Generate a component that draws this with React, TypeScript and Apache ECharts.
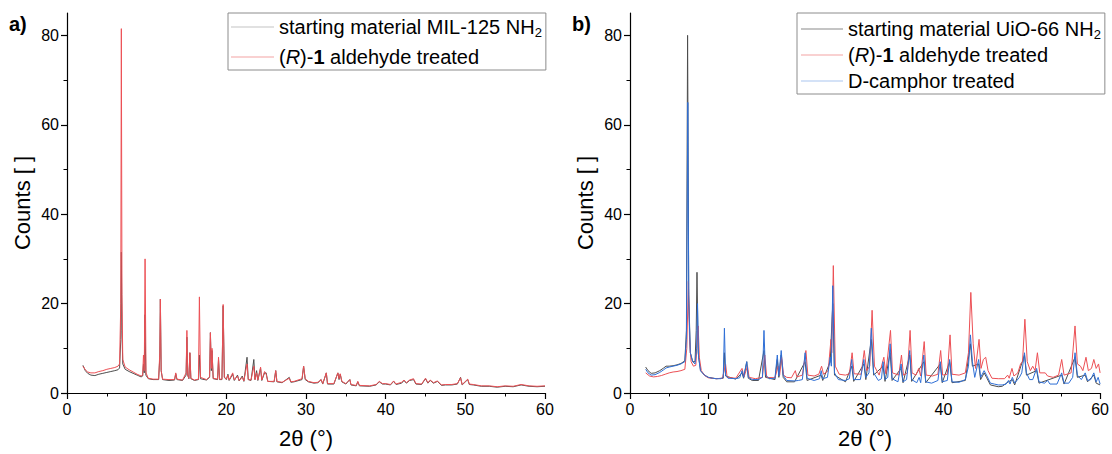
import React, { useEffect, useRef } from "react";
import * as echarts from "echarts";

// ---- Panel a) MIL-125 NH2 ----
const milStart: number[][] = [
  [2.0,6.2],[2.3,5.0],[2.6,4.4],[3.0,4.0],[3.5,3.9],[4.0,4.2],[4.5,4.4],[5.0,4.6],[5.5,4.8],[6.0,5.0],[6.4,5.2],[6.6,5.6],
  [6.75,12],[6.82,31.5],[6.9,14],[7.0,6.5],[7.3,5.3],[7.8,4.8],[8.3,4.4],[8.8,4.0],[9.3,3.6],[9.5,3.8],[9.6,6.5],[9.7,4.5],
  [9.78,17.5],[9.9,4],[10.2,3.2],[10.8,3.0],[11.5,3.0],[11.65,8],[11.72,21],[11.82,5],[12,3],[12.8,2.8],[13.5,2.9],[13.65,4.3],
  [13.8,3],[14.5,2.8],[14.95,4],[15.05,12.5],[15.15,4],[15.3,3.2],[15.42,9],[15.55,3.2],[16.0,2.8],[16.5,3.0],[16.62,8.5],
  [16.75,3.2],[17.5,2.9],[17.9,3.5],[18.0,13.5],[18.12,5],[18.2,9.5],[18.35,3.2],[18.9,3],[19.02,7.5],[19.15,3],[19.45,3],
  [19.6,19.5],[19.75,3.5],[20.0,3],[20.2,4.2],[20.35,2.8],[20.8,4.2],[21.0,2.8],[21.4,4],[21.6,2.7],[22.0,3.8],[22.2,2.6],
  [22.6,8],[22.75,3],[23.1,2.8],[23.45,7.5],[23.6,3],[23.8,5],[23.95,2.8],[24.3,5.5],[24.45,2.8],[24.8,4.5],[25.0,4.5],
  [25.2,2.6],[26.0,2.5],[26.2,5],[26.35,2.5],[27,2.3],[27.9,3.5],[28.1,2.4],[28.5,2.5],[29.5,3],[29.7,6],[29.9,3],[30.3,2.5],
  [31.0,2.2],[31.5,2.3],[31.9,3],[32.1,2],[32.55,4.5],[32.7,2],[33.5,2.0],[34.0,4.5],[34.15,3],[34.3,4.2],[34.5,2.5],[35.0,2],
  [35.5,3],[35.65,1.8],[36.3,1.6],[36.5,2.5],[36.7,1.6],[38,1.5],[38.8,1.8],[39.2,2.5],[39.6,2],[40,2],[40.6,1.8],[41,2.6],
  [41.3,1.9],[42,2.2],[42.3,2.8],[42.6,2.2],[43,2.8],[43.5,3],[43.8,2],[44.5,1.9],[45,3.2],[45.3,2.2],[45.6,2.8],[46,2.2],
  [46.5,2.6],[47,1.7],[47.5,1.8],[48.3,1.8],[49,2],[49.4,3.5],[49.6,1.8],[50.3,3],[50.5,1.9],[51,1.8],[52,1.5],[53,1.5],
  [54,1.3],[55,1.5],[56,1.4],[57,1.8],[58,1.5],[59,1.4],[60,1.5]
];
const milAldehyde: number[][] = [
  [2.0,6.0],[2.3,5.2],[2.6,4.7],[3.0,4.5],[3.5,4.5],[4.0,4.8],[4.5,5.0],[5.0,5.3],[5.5,5.5],[6.0,5.7],[6.4,6.0],[6.6,6.5],
  [6.75,20],[6.82,81.5],[6.9,22],[7.0,7.5],[7.3,5.8],[7.8,5.2],[8.3,4.7],[8.8,4.2],[9.3,3.8],[9.5,4.0],[9.6,8.5],[9.7,5],
  [9.8,30],[9.92,4.5],[10.2,3.3],[10.8,3.1],[11.5,3.1],[11.65,9],[11.72,21],[11.82,5],[12,3.1],[12.8,3.0],[13.5,3.0],[13.65,4.5],
  [13.8,3.1],[14.5,2.9],[14.95,4.5],[15.05,14],[15.15,4],[15.3,3.3],[15.42,9],[15.55,3.3],[16.0,2.9],[16.5,3.1],[16.62,21.5],
  [16.75,3.5],[17.5,3.0],[17.9,3.6],[18.0,13.5],[18.12,5.5],[18.2,10],[18.35,3.3],[18.9,3.1],[19.02,8],[19.15,3.1],[19.45,3.1],
  [19.6,19.8],[19.75,3.6],[20.0,3.1],[20.2,4.0],[20.35,2.9],[20.8,4.5],[21.0,2.9],[21.4,3.8],[21.6,2.8],[22.0,3.5],[22.2,2.7],
  [22.6,6.5],[22.75,3],[23.1,2.9],[23.45,6],[23.6,3],[23.8,4.5],[23.95,2.9],[24.3,5.8],[24.45,2.9],[24.8,4.8],[25.0,4.2],
  [25.2,2.6],[26.0,2.6],[26.2,5],[26.35,2.6],[27,2.4],[27.9,3.3],[28.1,2.5],[28.5,2.6],[29.5,3.2],[29.7,6],[29.9,3.2],[30.3,2.6],
  [31.0,2.3],[31.5,2.4],[31.9,3],[32.1,2.1],[32.55,4.5],[32.7,2.1],[33.5,2.1],[34.0,4.5],[34.15,3.2],[34.3,4.3],[34.5,2.6],[35.0,2.1],
  [35.5,3],[35.65,1.9],[36.3,1.7],[36.5,2.6],[36.7,1.7],[38,1.6],[38.8,1.9],[39.2,2.6],[39.6,2.1],[40,2.1],[40.6,1.9],[41,2.7],
  [41.3,2],[42,2.4],[42.3,2.9],[42.6,2.3],[43,2.9],[43.5,3.2],[43.8,2.1],[44.5,2],[45,3.3],[45.3,2.3],[45.6,2.9],[46,2.3],
  [46.5,2.7],[47,1.8],[47.5,1.9],[48.3,1.9],[49,2.1],[49.4,3.4],[49.6,1.9],[50.3,3.1],[50.5,2],[51,1.9],[52,1.6],[53,1.6],
  [54,1.4],[55,1.6],[56,1.5],[57,1.9],[58,1.6],[59,1.5],[60,1.6]
];

// ---- Panel b) UiO-66 NH2 ----
const uioStart: number[][] = [
  [2,5.8],[2.3,5],[2.7,4.4],[3.2,4.5],[3.8,5],[4.3,5.6],[4.6,6],[5,6],[5.5,6.1],[6,6.3],[6.5,6.6],[7.0,7.2],[7.2,14],[7.35,80],
  [7.5,22],[7.7,9],[8.0,7],[8.3,7],[8.45,14],[8.55,27],[8.7,9],[9,5],[9.5,4],[10,3.5],[11,3.2],[11.9,3.3],[12.05,9],[12.2,3.8],
  [13.5,3.1],[14.3,4.5],[14.5,3.3],[14.9,7],[15.1,3.3],[15.6,2.8],[16.4,2.8],[17.1,9.5],[17.3,3.5],[18.5,3],[18.8,7.5],[19.0,3.5],
  [19.3,8.5],[19.55,3.5],[20,2.5],[21,2.5],[22.35,7],[22.6,2.8],[24.4,4],[24.6,2.8],[25.55,7],[25.88,20],[26.1,4],[27.5,2.5],
  [28.3,6],[28.55,2.6],[29.85,6.5],[30.1,3],[30.8,12],[31.1,4],[32.3,6],[32.55,2.6],[33.2,9],[33.45,2.8],[34.6,5.5],[34.85,2.3],
  [35.7,8.5],[35.95,2.6],[37.5,7],[37.75,2.3],[39.6,6.5],[39.85,2.3],[40.8,7],[41.1,2.3],[42.8,2.8],[43.45,11],[43.7,6],[44.5,6.5],
  [44.75,3],[45.2,4.5],[45.5,3.5],[46,1.8],[47,1.4],[47.5,1.5],[48.3,2.5],[48.8,3],[49.1,1.8],[50.35,8.5],[50.6,4],[51.9,5],
  [52.2,2.2],[55.1,4],[55.4,2],[56.8,8],[57.1,3.5],[58.1,4],[58.4,2.5],[59.2,4],[59.5,2.2],[60,1.8]
];
const uioAldehyde: number[][] = [
  [2,4.5],[2.5,3.8],[3,3.6],[3.5,3.7],[4,3.9],[4.5,4.2],[5,4.5],[5.5,4.7],[6,4.8],[6.5,5.0],[7.0,5.3],[7.25,10],[7.45,25],
  [7.6,12],[7.8,7],[8.1,6],[8.4,6.2],[8.7,15],[8.85,8],[9.1,5],[9.6,3.8],[10,3.4],[11,3.2],[11.8,3.3],[12.2,6.5],[12.4,3.5],
  [13.5,3.3],[14.3,5.5],[14.55,3.6],[15.0,6],[15.2,3.5],[16,3.2],[16.9,3.5],[17.2,8.5],[17.45,3.5],[18.5,3.4],[18.9,6],[19.1,4],
  [19.35,8],[19.6,4],[20,3.5],[20.6,3.4],[21.1,5],[21.3,3.6],[22.0,4],[22.45,9.5],[22.7,4],[23.5,3.8],[24.1,4.2],[24.45,6],
  [24.7,4.2],[25.3,5],[25.65,12],[25.75,9],[25.95,28.5],[26.2,6],[26.7,4.2],[27.5,4],[28.0,4.3],[28.35,9],[28.6,4.3],[29.5,4.2],
  [29.9,9.5],[30.2,5],[30.6,6],[30.9,18.5],[31.2,6],[31.8,4],[32.4,8],[32.65,4.3],[33.25,14],[33.5,4.5],[34.3,4],[34.65,8.5],
  [34.9,4],[35.4,4.5],[35.75,14],[36.0,4.5],[36.5,4],[36.85,5.5],[37.1,3.8],[37.55,11.5],[37.8,4],[38.6,3.8],[39.3,4.2],
  [39.65,9.5],[39.9,4],[40.5,4.2],[40.85,13],[41.1,4.2],[42,4],[42.8,4.5],[43.2,9],[43.5,22.5],[43.8,11],[44.1,5.5],[44.55,12],
  [44.8,5.5],[45.1,7.5],[45.4,8],[45.7,5],[46.2,3.3],[47,3.2],[47.8,3.2],[48.2,4],[48.4,3.3],[48.75,5.5],[49.0,3.8],[49.5,4.5],
  [49.85,6.5],[50.1,7],[50.4,16.5],[50.7,7],[51.1,5],[51.4,6],[51.7,5],[52.0,9],[52.3,4.5],[53.0,4.5],[53.3,3.8],[54,3.5],
  [54.7,4],[55.1,7.5],[55.4,4],[56.3,4.5],[56.8,15],[57.1,6.5],[57.5,6],[57.8,5],[58.2,8],[58.5,5],[58.9,5.5],[59.2,7.5],
  [59.5,5.5],[59.8,6.5],[60,4.5]
];
const uioCamphor: number[][] = [
  [2,5.3],[2.3,4.5],[2.7,4.0],[3.2,4.1],[3.8,4.6],[4.3,5.2],[4.6,5.6],[5,5.8],[5.5,6],[6,6.2],[6.5,6.5],[7.0,7.0],[7.2,12],
  [7.38,65],[7.5,20],[7.7,9],[8.0,7],[8.3,6.5],[8.5,10],[8.62,20],[8.75,8],[9.0,5.0],[9.5,4],[10,3.5],[10.5,3.3],[11,3.2],
  [11.6,3.2],[11.9,3.5],[12.05,14.5],[12.2,4],[12.5,3.3],[13.5,3.2],[14.0,3.4],[14.3,5],[14.5,3.5],[14.9,7],[15.1,3.5],[15.6,3.0],
  [16.4,3.0],[16.9,3.5],[17.1,14],[17.3,4],[17.8,3.2],[18.5,3.3],[18.8,8.5],[19.0,3.8],[19.3,9.5],[19.55,4],[20,2.8],[21,2.7],
  [21.5,2.8],[22.0,3],[22.35,9],[22.6,3.3],[23.5,2.8],[24.2,3.2],[24.4,5],[24.6,3.2],[25.2,3.5],[25.55,8],[25.7,6],[25.88,24],
  [26.1,4.5],[26.6,3],[27.5,2.8],[28.0,3.2],[28.3,7.5],[28.55,3],[29.4,3],[29.85,7.5],[30.1,3.5],[30.5,4.5],[30.8,14.5],[31.1,4.5],
  [31.7,2.8],[32.1,3.2],[32.3,7],[32.55,3],[32.9,3.5],[33.2,11],[33.45,3.2],[34.2,2.5],[34.6,6.5],[34.85,2.5],[35.3,3],[35.7,9.5],
  [35.95,3],[36.6,2.3],[36.9,3.5],[37.1,2.3],[37.5,8.5],[37.75,2.5],[38.5,2.2],[39.3,2.8],[39.6,7],[39.85,2.5],[40.5,2.8],
  [40.8,7.5],[41.1,2.5],[42.0,2.4],[42.8,3],[43.2,6],[43.45,13],[43.7,7],[44.0,3.5],[44.5,7.5],[44.75,3.5],[45.2,5],[45.5,4],
  [46,2.2],[46.5,2],[47,1.8],[47.5,1.8],[48.0,2],[48.3,2.8],[48.5,2.0],[48.8,3.5],[49.1,2.2],[49.7,3.5],[50.0,4.5],[50.35,9],
  [50.6,4.5],[51,3],[51.4,3],[51.9,5.5],[52.2,2.5],[52.9,2.2],[53.3,2.8],[53.6,2],[54.5,2],[55.1,4.5],[55.4,2.2],[56,2.2],
  [56.5,3.5],[56.8,9],[57.1,4],[57.6,3],[58.1,4.5],[58.4,2.8],[58.8,3],[59.2,4.5],[59.5,2.5],[59.75,3.5],[60,2]
];

const xTicks = [0, 10, 20, 30, 40, 50, 60];
const yMajor = [0, 20, 40, 60, 80];
const yMinor = [10, 30, 50, 70];

const FONT = "'Liberation Sans', Arial, sans-serif";
const GRAY = "#4d4d4d";
const RED = "#ec5055";
const BLUE = "#2f6fd6";

const legendLabels: Record<string, string> = {
  aStart: "starting material MIL-125 NH{sub|2}",
  aAld: "({it|R})-{b|1} aldehyde treated",
  bStart: "starting material UiO-66 NH{sub|2}",
  bAld: "({it|R})-{b|1} aldehyde treated",
  bCam: "D-camphor treated",
};

export default function App() {
  const ref = useRef<HTMLDivElement>(null);
  useEffect(() => {
    if (!ref.current) return;
    const chart = echarts.init(ref.current, null, { renderer: "svg" });
    const fs = 20;
    const rich = {
      sub: { fontSize: 13, fontFamily: FONT, color: "#000", verticalAlign: "bottom", lineHeight: 13 },
      it: { fontSize: fs, fontStyle: "italic", fontFamily: FONT, color: "#000", lineHeight: 24 },
      b: { fontSize: fs, fontWeight: "bold", fontFamily: FONT, color: "#000", lineHeight: 24 },
    };
    const grids = [
      { left: 67, right: 567, top: 13, bottom: 60 },
      { left: 630, right: 9, top: 13, bottom: 60 },
    ];
    const xAxis = grids.map((_, i) => ({
      type: "value",
      gridIndex: i,
      min: 0,
      max: 60,
      interval: 10,
      name: "2θ (°)",
      nameLocation: "middle",
      nameGap: 34,
      nameTextStyle: { fontSize: 22, fontFamily: FONT, color: "#000" },
      axisLine: { lineStyle: { color: "#000", width: 1.2 } },
      axisTick: { length: 6, lineStyle: { color: "#000", width: 1.2 }, customValues: xTicks },
      axisLabel: { fontSize: 16, fontFamily: FONT, color: "#000", margin: 8, customValues: xTicks },
      minorTick: { show: true, splitNumber: 2, length: 3.5, lineStyle: { color: "#000", width: 1 } },
      splitLine: { show: false },
    }));
    const yAxis: any[] = [];
    grids.forEach((_, i) => {
      yAxis.push({
        type: "value",
        gridIndex: i,
        position: "left",
        min: 0,
        max: 85,
        name: "Counts [ ]",
        nameLocation: "middle",
        nameGap: 34,
        nameTextStyle: { fontSize: 22, fontFamily: FONT, color: "#000" },
        axisLine: { lineStyle: { color: "#000", width: 1.2 } },
        axisTick: { length: 6, lineStyle: { color: "#000", width: 1.2 }, customValues: yMajor },
        axisLabel: { fontSize: 16, fontFamily: FONT, color: "#000", margin: 8, customValues: yMajor },
        splitLine: { show: false },
      });
      yAxis.push({
        type: "value",
        gridIndex: i,
        position: "left",
        offset: 0,
        min: 0,
        max: 85,
        axisLine: { show: false },
        axisTick: { show: true, length: 3.5, lineStyle: { color: "#000", width: 1 }, customValues: yMinor },
        axisLabel: { show: false },
        splitLine: { show: false },
      });
    });
    const mk = (name: string, data: number[][], color: string, gi: number) => ({
      name,
      type: "line",
      xAxisIndex: gi,
      yAxisIndex: gi * 2,
      data,
      showSymbol: false,
      symbol: "none",
      lineStyle: { color, width: 1 },
      itemStyle: { color },
      emphasis: { disabled: true },
    });
    const legendBase = {
      orient: "vertical",
      icon: "rect",
      itemHeight: 1,
      borderColor: "#8c8c8c",
      borderWidth: 1,
      backgroundColor: "#fff",
      selectedMode: false,
      textStyle: { fontSize: fs, fontFamily: FONT, color: "#000", lineHeight: 24, rich },
      formatter: (n: string) => legendLabels[n] ?? n,
    };
    chart.setOption({
      animation: false,
      grid: grids,
      xAxis,
      yAxis,
      legend: [
        {
          ...legendBase,
          left: 228,
          top: 13,
          itemWidth: 43,
          padding: [2, 4, 1, 3],
          itemGap: 6,
          data: [
            { name: "aStart", itemStyle: { color: "#c4c4c4" } },
            { name: "aAld", itemStyle: { color: "#f4a3a3" } },
          ],
        },
        {
          ...legendBase,
          left: 797,
          top: 13,
          itemWidth: 42,
          padding: [4, 4, 1, 4],
          itemGap: 2,
          data: [
            { name: "bStart", itemStyle: { color: "#8a8a8a" } },
            { name: "bAld", itemStyle: { color: "#f4a3a3" } },
            { name: "bCam", itemStyle: { color: "#a9c5f0" } },
          ],
        },
      ],
      graphic: [
        { type: "text", left: 9, top: 14, style: { text: "a)", font: `bold 20px ${FONT}`, fill: "#000" } },
        { type: "text", left: 572, top: 14, style: { text: "b)", font: `bold 20px ${FONT}`, fill: "#000" } },
      ],
      series: [
        mk("aStart", milStart, GRAY, 0),
        mk("aAld", milAldehyde, RED, 0),
        mk("bStart", uioStart, GRAY, 1),
        mk("bAld", uioAldehyde, RED, 1),
        mk("bCam", uioCamphor, BLUE, 1),
      ],
    });
    return () => chart.dispose();
  }, []);
  return (
    <div
      ref={ref}
      style={{ position: "fixed", left: 0, top: 0, width: 1112, height: 454, background: "#fff" }}
    />
  );
}
